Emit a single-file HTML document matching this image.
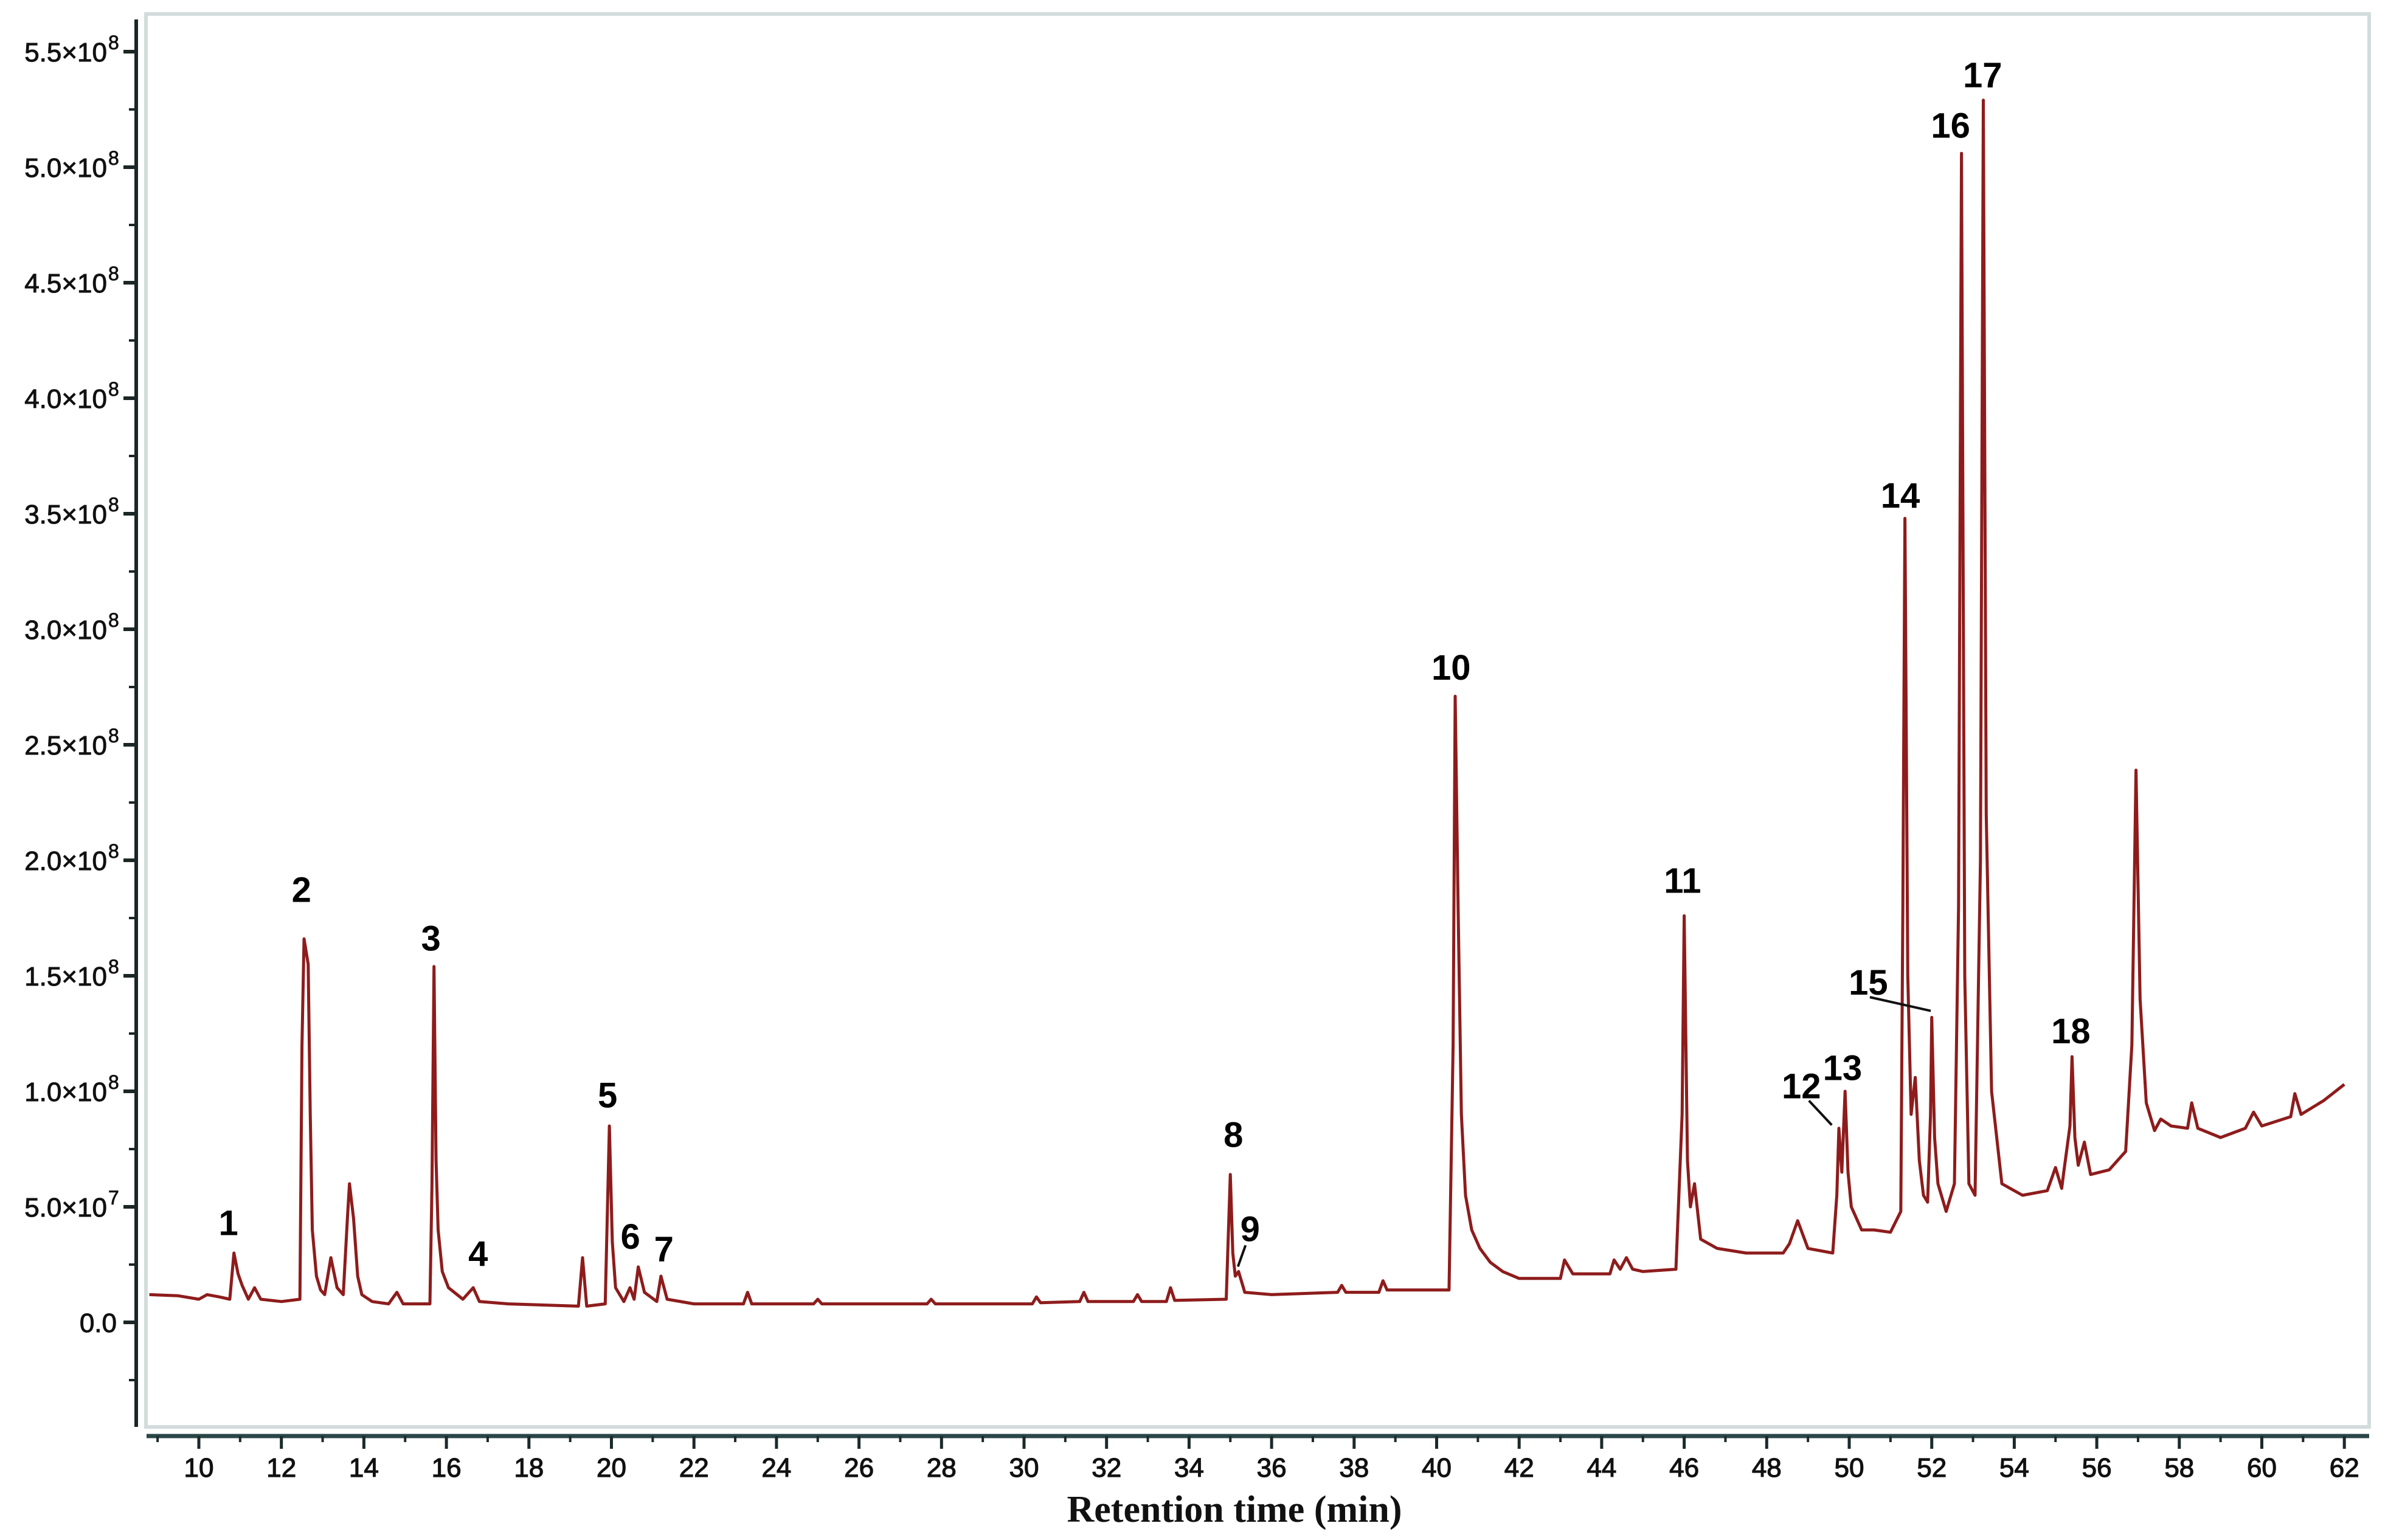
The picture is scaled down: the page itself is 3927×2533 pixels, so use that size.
<!DOCTYPE html>
<html><head><meta charset="utf-8"><style>
html,body{margin:0;padding:0;background:#fff;}
svg{display:block;}
</style></head><body>
<svg id="chart" width="3927" height="2533" viewBox="0 0 3927 2533" xmlns="http://www.w3.org/2000/svg">
<rect x="240" y="23" width="3656" height="2324" fill="none" stroke="#d3dcdc" stroke-width="6"/>
<g id="yaxis"></g>
<g id="xaxis"></g>
<path id="trace" fill="none" stroke="#8e1c1c" stroke-width="5" stroke-linejoin="round"/>
<g id="labels"></g>
<text x="2030" y="2503" text-anchor="middle" font-family="Liberation Serif, serif" font-weight="bold" font-size="62" fill="#111">Retention time (min)</text>
</svg>
<script>
// Data (time in min, intensity in units of 1e7)
const times = [8.8,9.5,10.0,10.2,10.5,10.75,10.85,10.95,11.05,11.2,11.35,11.5,12.0,12.45,12.5,12.55,12.65,12.7,12.75,12.85,12.95,13.05,13.2,13.35,13.5,13.6,13.65,13.75,13.85,13.95,14.2,14.6,14.8,14.95,15.6,15.65,15.7,15.75,15.8,15.9,16.05,16.4,16.65,16.8,17.5,19.2,19.3,19.4,19.85,19.95,20.02,20.1,20.3,20.45,20.55,20.65,20.8,21.1,21.2,21.35,22.0,23.2,23.3,23.4,24.9,25.0,25.1,27.65,27.75,27.85,30.2,30.3,30.4,31.35,31.45,31.55,32.65,32.75,32.85,33.45,33.55,33.65,34.9,35.0,35.06,35.12,35.2,35.35,36.0,37.6,37.7,37.8,38.6,38.7,38.8,40.3,40.4,40.45,40.52,40.6,40.7,40.85,41.05,41.3,41.6,42.0,43.0,43.1,43.3,44.2,44.3,44.45,44.6,44.75,45.0,45.8,45.95,46.0,46.08,46.15,46.25,46.4,46.8,47.5,48.4,48.55,48.75,49.0,49.6,49.7,49.75,49.82,49.9,49.97,50.05,50.3,50.6,51.0,51.25,51.3,51.35,51.42,51.5,51.6,51.7,51.8,51.9,51.97,52.0,52.07,52.15,52.35,52.55,52.65,52.72,52.8,52.9,53.05,53.18,53.25,53.32,53.45,53.7,54.2,54.8,55.0,55.15,55.2,55.35,55.4,55.47,55.55,55.7,55.85,56.3,56.7,56.85,56.95,57.05,57.2,57.4,57.55,57.8,58.2,58.3,58.45,59.0,59.6,59.8,60.0,60.7,60.8,60.95,61.5,62.0];
const intensity = [1.2,1.15,1.0,1.2,1.1,1.0,3.0,2.1,1.6,1.0,1.5,1.0,0.9,1.0,12.0,16.6,15.5,9.0,4.0,2.0,1.4,1.2,2.8,1.5,1.2,4.5,6.0,4.5,2.0,1.2,0.9,0.8,1.3,0.8,0.8,6.0,15.4,7.0,4.0,2.2,1.5,1.0,1.5,0.9,0.8,0.7,2.8,0.7,0.8,8.5,3.5,1.5,0.9,1.5,1.0,2.4,1.3,0.9,2.0,1.0,0.8,0.8,1.3,0.8,0.8,1.0,0.8,0.8,1.0,0.8,0.8,1.1,0.85,0.9,1.3,0.9,0.9,1.2,0.9,0.9,1.5,0.95,1.0,6.4,3.0,2.0,2.2,1.3,1.2,1.3,1.6,1.3,1.3,1.8,1.4,1.4,12.0,27.1,18.0,9.0,5.5,4.0,3.2,2.6,2.2,1.9,1.9,2.7,2.1,2.1,2.7,2.3,2.8,2.3,2.2,2.3,9.0,17.6,7.0,5.0,6.0,3.6,3.2,3.0,3.0,3.4,4.4,3.2,3.0,5.5,8.4,6.5,10.0,6.5,5.0,4.0,4.0,3.9,4.8,18.0,34.8,15.0,9.0,10.6,7.0,5.5,5.2,9.0,13.2,8.0,6.0,4.8,6.0,18.0,50.6,15.0,6.0,5.5,20.0,52.9,22.0,10.0,6.0,5.5,5.7,6.7,5.8,6.5,8.5,11.5,8.0,6.8,7.8,6.4,6.6,7.4,12.0,23.9,14.0,9.5,8.3,8.8,8.5,8.4,9.5,8.4,8.0,8.4,9.1,8.5,8.9,9.9,9.0,9.6,10.3];
const peakNames = ["1","2","3","4","5","6","7","8","9","10","11","12","13","14","15","16","17","18"];
const peakLabelX = [150,198,283,314,399,414,436,810,821,953,1105,1183,1210,1248,1227,1281,1302,1360];
const peakLabelY = [803,584,616,823,719,812,820,745,807,438,578,713,701,325,645,82,49,677];
const xTicks = [10,12,14,16,18,20,22,24,26,28,30,32,34,36,38,40,42,44,46,48,50,52,54,56,58,60,62];
const yTicks = [0,0.5,1.0,1.5,2.0,2.5,3.0,3.5,4.0,4.5,5.0,5.5];
const yTickLabels = ["0.0","5.0×10","1.0×10","1.5×10","2.0×10","2.5×10","3.0×10","3.5×10","4.0×10","4.5×10","5.0×10","5.5×10"];
const yTickExp = ["","7","8","8","8","8","8","8","8","8","8","8"];

const NS="http://www.w3.org/2000/svg";
function xs(t){return 327+(t-10)*67.85;}
function ys(v){return 2175-v*38;}      // v in 1e7
function ysE8(v){return 2175-v*380;}   // v in 1e8

let d="";
for(let i=0;i<times.length;i++){d+=(i?"L":"M")+xs(times[i]).toFixed(1)+" "+ys(intensity[i]).toFixed(1);}
document.getElementById('trace').setAttribute('d',d);

function mk(tag,attrs,parent){const e=document.createElementNS(NS,tag);for(const k in attrs)e.setAttribute(k,attrs[k]);parent.appendChild(e);return e;}

// Y axis
const ya=document.getElementById('yaxis');
const yl=mk('line',{x1:224,y1:32,x2:224,y2:2347,stroke:'#1b2626','stroke-width':6},ya);


for(let v=-0.25;v<=5.6;v+=0.25){
  const major=Math.abs(v*2-Math.round(v*2))<1e-6;
  const ln=mk('line',{x1:major?203:212,y1:ysE8(v),x2:224,y2:ysE8(v),stroke:'#1b2626','stroke-width':major?6:4},ya);
  
  
}
for(let i=0;i<yTicks.length;i++){
  const y=ysE8(yTicks[i]);
  const t=mk('text',{x:i===0?192:176,y:y+16,'text-anchor':'end','font-family':'Liberation Sans, sans-serif','font-size':44,fill:'#111',stroke:'#111','stroke-width':1},ya);
  t.textContent=yTickLabels[i];
  
  
  if(yTickExp[i]){
    const s=mk('text',{x:178,y:y-4,'font-family':'Liberation Sans, sans-serif','font-size':32,fill:'#111',stroke:'#111','stroke-width':0.8},ya);
    s.textContent=yTickExp[i];
    
    
  }
}
// X axis
const xa=document.getElementById('xaxis');
const xl=mk('line',{x1:241,y1:2362,x2:3896,y2:2362,stroke:'#2a4747','stroke-width':7},xa);


for(let t=9;t<=62;t++){
  const major=t%2===0;
  const ln=mk('line',{x1:xs(t),y1:2362,x2:xs(t),y2:major?2383:2372,stroke:'#1b2a2a','stroke-width':major?5:4},xa);
  
  
}
for(let i=0;i<xTicks.length;i++){
  const t=mk('text',{x:xs(xTicks[i]),y:2429,'text-anchor':'middle','font-family':'Liberation Sans, sans-serif','font-size':44,fill:'#111',stroke:'#111','stroke-width':1.2},xa);
  t.textContent=xTicks[i];
  
  
}
// Peak labels
const lg=document.getElementById('labels');
for(let i=0;i<peakNames.length;i++){
  const t=mk('text',{x:peakLabelX[i]*2.504,y:peakLabelY[i]*2.504+21,'text-anchor':'middle','font-family':'Liberation Sans, sans-serif','font-weight':'bold','font-size':58,fill:'#000'},lg);
  t.textContent=peakNames[i];
  
  
}
const leaders=[[818,818,813,832],[1188,723,1203,739],[1228,655,1268,664]];
for(const L of leaders){
  const ln=mk('line',{x1:L[0]*2.504,y1:L[1]*2.504,x2:L[2]*2.504,y2:L[3]*2.504,stroke:'#111','stroke-width':4},lg);
  
  
}
</script>
</body></html>
